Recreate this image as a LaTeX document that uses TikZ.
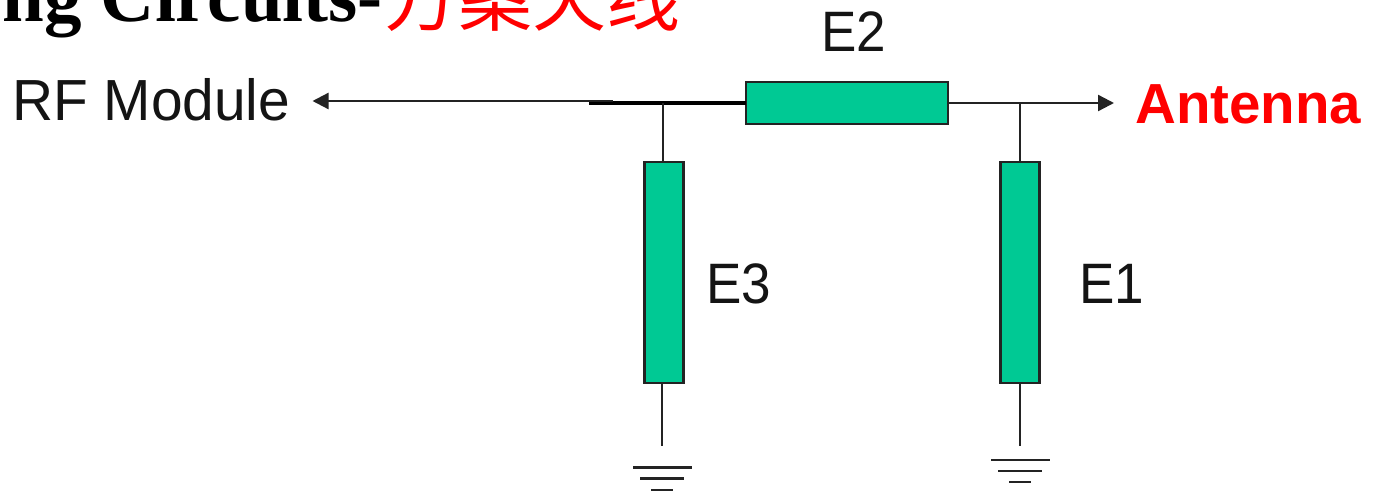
\documentclass[tikz,border=0pt]{standalone}
\usepackage{fontspec}
\usetikzlibrary{arrows.meta}
\setmainfont{Liberation Sans}
\newfontfamily\headfont{Liberation Serif}
\newfontfamily\cjk{Noto Sans CJK SC}
\definecolor{elemgreen}{RGB}{0,201,148}
\definecolor{wiregray}{RGB}{35,35,35}
\begin{document}
\begin{tikzpicture}[x=1pt,y=-1pt,
  element/.style={draw=wiregray,line width=2.2pt,fill=elemgreen,inner sep=0pt,outer sep=0pt},
  wire/.style={draw=wiregray,line width=2.3pt},
  arrowwire/.style={wire,-{Triangle[length=16pt,width=16pt]}},
  gndbar/.style={draw=wiregray,line width=2.6pt},
  label/.style={inner sep=0pt,anchor=base,font=\fontsize{57}{57}\selectfont,text=black!92}]
\clip (0,0) rectangle (1375,495);
\fill[white] (0,0) rectangle (1375,495);
% heading
\node[inner sep=0pt,anchor=base east] (head) at (383,22) {\headfont\bfseries\fontsize{75}{75}\selectfont ng Circuits-};
\node[inner sep=0pt,anchor=base west,text=red] (headcn) at (384,26) {\cjk\fontsize{74}{74}\selectfont 方案天线};
% elements
\node[element,minimum width=202pt,minimum height=42pt] (E2box) at (847,103) {};
\node[element,minimum width=39pt,minimum height=221pt] (E3box) at (664,272.5) {};
\node[element,minimum width=39pt,minimum height=221pt] (E1box) at (1020,272.5) {};
% labels
\node[label] (lE2) at (854,52) {\scalebox{.93}[1]{E2}};
\node[label] (lE3) at (739,303.5) {\scalebox{.93}[1]{E3}};
\node[label] (lE1) at (1112,303.5) {\scalebox{.93}[1]{E1}};
\node[label,anchor=base west,font=\fontsize{58}{58}\selectfont] (lRF) at (12,120) {\scalebox{.98}[1]{RF Module}};
\node[inner sep=0pt,anchor=base west,text=red,font=\fontsize{56.5}{56}\selectfont\bfseries] (lAnt) at (1135,123) {Antenna};
% junctions and free ends
\coordinate (jL) at (663,103);
\coordinate (jR) at (1020,103);
\coordinate (tipL) at (312.5,101);
\coordinate (tipR) at (1114,103);
\coordinate (stubL) at (589,103);
\coordinate (g3) at (662,446);
\coordinate (g1) at (1020,446);
% connectors
\draw[line width=3.2pt,black] (E2box.west) -- (stubL);
\draw[arrowwire] (613,101) -- (tipL);
\draw[arrowwire] (E2box.east) -- (tipR);
\draw[wire] (jL) -- (jL |- E3box.north);
\draw[wire] (jR) -- (E1box.north);
\draw[wire] (g3 |- E3box.south) -- (g3);
\draw[wire] (E1box.south) -- (g1);
% grounds
\draw[gndbar] (633,467.5) -- (692,467.5);
\draw[gndbar] (640,478.5) -- (684,478.5);
\draw[gndbar] (651,490) -- (673,490);
\draw[gndbar] (991,460) -- (1050,460);
\draw[gndbar] (998,471) -- (1042,471);
\draw[gndbar] (1009,482) -- (1031,482);
\end{tikzpicture}
\end{document}
